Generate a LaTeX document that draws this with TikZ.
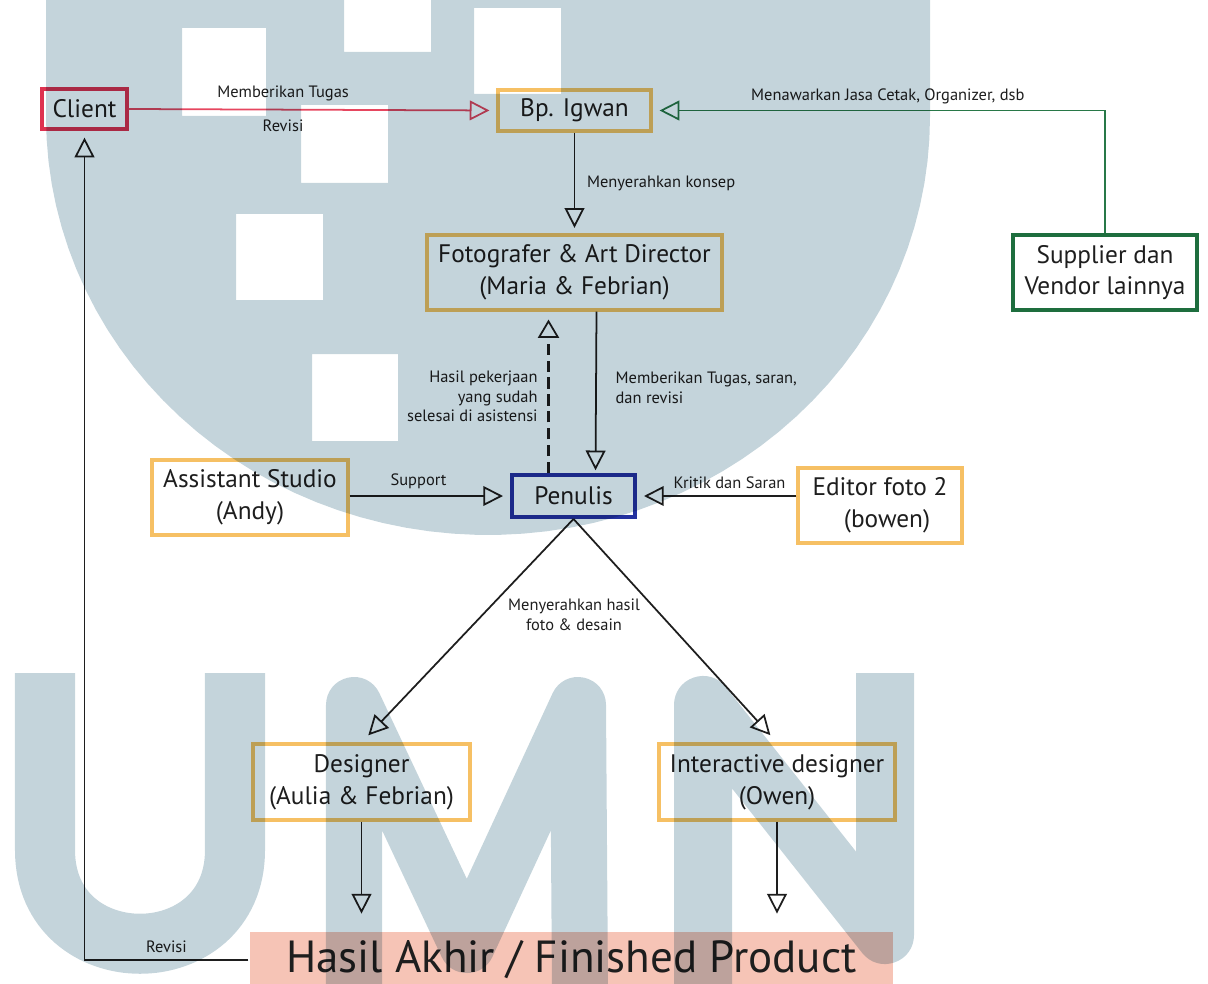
\documentclass[tikz,border=0pt]{standalone}
\usepackage{fontspec}
\setmainfont{PT Sans}
\usetikzlibrary{arrows.meta,positioning,calc}

\definecolor{umnblue}{RGB}{196,212,219}
\definecolor{clientred}{RGB}{222,50,80}
\definecolor{linered}{RGB}{230,70,95}
\definecolor{boxorange}{RGB}{246,192,100}
\definecolor{penulisblue}{RGB}{36,50,160}
\definecolor{suppliergreen}{RGB}{30,110,62}
\definecolor{linegreen}{RGB}{40,120,72}
\definecolor{salmon}{RGB}{246,196,182}
\definecolor{ink}{RGB}{30,30,30}

\newcommand{\pxl}{0.025cm}

\begin{document}
\begin{tikzpicture}[x=0.025cm, y=-0.025cm,
		box/.style={draw=boxorange, line width=2.2pt, align=center, text=ink, inner sep=0pt,
			font=\fontsize{18}{22.5}\selectfont},
		lbl/.style={text=ink, align=center, font=\fontsize{11.7}{14.2}\selectfont},
		flow/.style={draw=ink, line width=1.25pt, shorten >=5pt,
			-{Triangle[open, length=14pt, width=14pt]}},
	]
	\useasboundingbox (0,0) rectangle (1208,984);
	\clip (0,0) rectangle (1208,984);

	\node[box, draw=clientred, minimum width=85*\pxl, minimum height=40*\pxl] (client) at (84.5,109) {Client};
	\node[box, minimum width=153*\pxl, minimum height=41*\pxl] (igwan) at (574.5,110.5) {Bp. Igwan};
	\node[box, draw=suppliergreen, minimum width=184*\pxl, minimum height=75*\pxl] (supplier) at (1105,272.5) {Supplier dan\\Vendor lainnya};
	\node[box, minimum width=295*\pxl, minimum height=75*\pxl] (foto) at (574.5,272.5) {Fotografer \& Art Director\\(Maria \& Febrian)};
	\node[box, draw=penulisblue, line width=2.8pt, minimum width=123*\pxl, minimum height=42*\pxl] (penulis) at (573.5,496) {Penulis};
	\node[box, minimum width=196*\pxl, minimum height=75*\pxl] (asisten) at (250,497.5) {Assistant Studio\\(Andy)};
	\node[box, minimum width=164*\pxl, minimum height=75*\pxl] (editor) at (880,505.5) {Editor foto 2\\\hspace*{10pt}(bowen)};
	\node[box, minimum width=217*\pxl, minimum height=76*\pxl] (designer) at (361.5,782) {Designer\\(Aulia \& Febrian)};
	\node[box, minimum width=236*\pxl, minimum height=76*\pxl] (interaktif) at (777,782) {Interactive designer\\(Owen)};
	\node[box, draw=none, fill=salmon, minimum width=643*\pxl, minimum height=56*\pxl,
		font=\fontsize{32}{38}\selectfont] (hasil) at (571.5,960) {Hasil Akhir / Finished Product};
	\node[lbl] (serah) at (574,615) {Menyerahkan hasil\\foto \& desain};

	\draw[flow, draw=linered] (client.east) -- (igwan.west)
		node[lbl, pos=0.42, above=2pt] {Memberikan Tugas}
		node[lbl, pos=0.42, below=3pt] {Revisi};
	\draw[flow, draw=linegreen] (supplier.north) |- (igwan.east)
		node[lbl, pos=0.74, above=1pt] {Menawarkan Jasa Cetak, Organizer, dsb};
	\draw[flow, shorten >=4pt] (igwan.south) -- (foto.north)
		node[lbl, midway, right=5pt] {Menyerahkan konsep};
	\draw[flow, line width=2.8pt, dash pattern=on 8pt off 4pt, shorten >=0pt,
		-{Triangle[open, length=13pt, width=15pt, line width=1.25pt]}]
		($(penulis.north)+(-25,0)$) -- ($(foto.south)+(-26,8)$)
		node[lbl, midway, left=3pt, align=right] {Hasil pekerjaan\\yang sudah\\selesai di asistensi};
	\draw[flow, shorten >=2pt] ($(foto.south)+(22,0)$) -- ($(penulis.north)+(22,0)$)
		node[lbl, midway, right=10pt, align=left, yshift=3pt] {Memberikan Tugas, saran,\\dan revisi};
	\draw[flow] (asisten.east |- penulis.west) -- (penulis.west)
		node[lbl, pos=0.43, above=1pt] {Support};
	\draw[flow] (editor.west |- penulis.east) -- (penulis.east)
		node[lbl, pos=0.42, above=1pt] {Kritik dan Saran};
	\draw[flow, shorten >=7pt] (penulis.south) -- (designer.north);
	\draw[flow, shorten >=7pt] (penulis.south) -- (interaktif.north);
	\draw[flow, shorten >=12pt] (designer.south) -- (designer.south |- hasil.north);
	\draw[flow, shorten >=12pt] (interaktif.south) -- (interaktif.south |- hasil.north);
	\draw[flow, shorten >=5pt] (hasil.west) -| (client.south)
		node[lbl, pos=0.25, above=1pt] {Revisi};

	\begin{scope}[blend mode=multiply]
		\fill[umnblue, even odd rule] (46,-20) -- plot[domain=180:360, samples=60] ({488+442*cos(\x)}, {117-418*sin(\x)}) -- (930,-20) -- cycle
			(182,28) rectangle (266,116)
			(344,-5) rectangle (431,52)
			(474,8) rectangle (561,94)
			(301,105) rectangle (388,183)
			(236,214) rectangle (323,300)
			(312,354) rectangle (398,441);
		\draw[umnblue, line width=1.5cm] (45,673) -- (45,850) .. controls (45,975) and (235,975) .. (235,850) -- (235,673);
		\draw[umnblue, line width=1.4cm, line join=round] (354,990) -- (354,705) -- (467,945) -- (578,705) -- (580,990);
		\draw[umnblue, line width=1.45cm, line join=round] (703,990) -- (703,705) -- (885,935) -- (885,673);
	\end{scope}
\end{tikzpicture}
\end{document}
